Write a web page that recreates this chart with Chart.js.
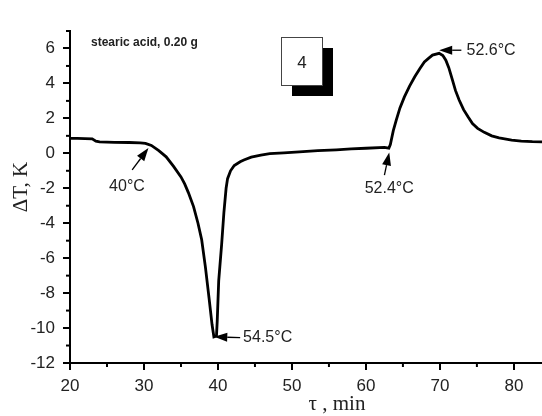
<!DOCTYPE html>
<html>
<head>
<meta charset="utf-8">
<script src="https://cdn.jsdelivr.net/npm/chart.js@4/dist/chart.umd.min.js"></script>
<style>
  body { margin: 0; background: white; }
  #caixa { width: 542px; height: 416px; }
</style>
</head>
<body>
<div id="caixa"><canvas id="grafico1"></canvas></div>
<script>
// tempo (min) e diferenca de temperatura (K)
var tau = [20, 21, 22, 23, 23.5, 24, 26, 28, 29.5, 30.2, 31, 32, 33, 34, 35, 35.5, 36, 36.7, 37.3, 37.8,
    38.3, 38.8, 39.2, 39.45, 39.8, 39.9, 40.1, 40.5, 40.8, 41.1, 41.3, 41.7, 42.2, 43, 43.5, 44.5, 45.8,
    47, 48.9, 51, 53.5, 56, 58, 60, 62.5, 63.1, 63.3, 63.7, 64.1, 64.6, 65.2, 65.9, 66.6, 67.3, 67.9,
    68.5, 69, 69.9, 70.4, 70.8, 71.2, 71.7, 72.1, 72.6, 73.2, 73.8, 74.4, 75.1, 76, 77, 78, 79.7, 81,
    82.5, 83.8];
var deltaT = [0.86, 0.85, 0.84, 0.83, 0.7, 0.65, 0.63, 0.62, 0.6, 0.57, 0.45, 0.15, -0.2, -0.75, -1.35,
    -1.75, -2.25, -3.05, -4.0, -4.95, -6.5, -8.3, -9.8, -10.5, -10.45, -9.6, -7.3, -5.2, -3.4, -2.0, -1.45,
    -1.0, -0.7, -0.48, -0.38, -0.22, -0.1, -0.02, 0.03, 0.08, 0.15, 0.2, 0.25, 0.29, 0.34, 0.3, 0.5, 1.3,
    1.9, 2.6, 3.23, 3.85, 4.38, 4.85, 5.23, 5.45, 5.62, 5.72, 5.6, 5.33, 4.9, 4.19, 3.6, 3.05, 2.5, 2.09,
    1.7, 1.43, 1.2, 1.0, 0.88, 0.76, 0.7, 0.67, 0.66];

var xTicks = [20, 30, 40, 50, 60, 70, 80];
var xMinor = [25, 35, 45, 55, 65, 75];
var yTicks = [-12, -10, -8, -6, -4, -2, 0, 2, 4, 6];
var yMinor = [-11, -9, -7, -5, -3, -1, 1, 3, 5, 7];

// setas: [texto, ponta x, ponta y, cauda x, cauda y, texto x, texto y, alinhamento]
var setas = [
    ['40°C', 30.6, 0.3, 28.4, -0.95, 27.7, -1.9, 'center'],
    ['54.5°C', 39.5, -10.5, 43.0, -10.55, 43.4, -10.55, 'left'],
    ['52.4°C', 63.15, 0.05, 62.5, -1.25, 63.15, -2.0, 'center'],
    ['52.6°C', 69.9, 5.9, 72.9, 5.9, 73.6, 5.9, 'left']
];

var pontos = tau.map(function (t, i) { return { x: t, y: deltaT[i] }; });

function seta(ctx, x1, y1, x2, y2) {
    // linha da cauda ate a ponta, com cabeca preenchida
    var ang = Math.atan2(y1 - y2, x1 - x2);
    var comp = 13, larg = 4.5;
    var bx = x1 - comp * Math.cos(ang), by = y1 - comp * Math.sin(ang);
    ctx.beginPath();
    ctx.moveTo(x2, y2);
    ctx.lineTo(bx, by);
    ctx.lineWidth = 1.3;
    ctx.strokeStyle = 'black';
    ctx.stroke();
    ctx.beginPath();
    ctx.moveTo(x1, y1);
    ctx.lineTo(bx + larg * Math.sin(ang), by - larg * Math.cos(ang));
    ctx.lineTo(bx - larg * Math.sin(ang), by + larg * Math.cos(ang));
    ctx.closePath();
    ctx.fillStyle = 'black';
    ctx.fill();
}

var extras = {
    id: 'extras',
    afterDraw: function (chart) {
        var ctx = chart.ctx;
        var sx = chart.scales.x, sy = chart.scales.y;
        var area = chart.chartArea;
        ctx.save();

        // tracos menores dos eixos
        ctx.strokeStyle = 'black';
        ctx.lineWidth = 2;
        xMinor.forEach(function (v) {
            var px = sx.getPixelForValue(v);
            ctx.beginPath();
            ctx.moveTo(px, area.bottom);
            ctx.lineTo(px, area.bottom + 4);
            ctx.stroke();
        });
        yMinor.forEach(function (v) {
            var py = sy.getPixelForValue(v);
            ctx.beginPath();
            ctx.moveTo(area.left, py);
            ctx.lineTo(area.left - 4, py);
            ctx.stroke();
        });

        // setas e temperaturas
        ctx.font = '16px "Liberation Sans", Arial, sans-serif';
        ctx.textBaseline = 'middle';
        setas.forEach(function (s) {
            seta(ctx, sx.getPixelForValue(s[1]), sy.getPixelForValue(s[2]),
                sx.getPixelForValue(s[3]), sy.getPixelForValue(s[4]));
            ctx.fillStyle = '#222';
            ctx.textAlign = s[7];
            ctx.fillText(s[0], sx.getPixelForValue(s[5]), sy.getPixelForValue(s[6]));
        });

        // amostra
        ctx.font = 'bold 12px "Liberation Sans", Arial, sans-serif';
        ctx.textAlign = 'left';
        ctx.fillStyle = '#222';
        ctx.fillText('stearic acid, 0.20 g', 91, 43);

        // caixa com o numero 4 e sombra
        ctx.fillStyle = 'black';
        ctx.fillRect(292, 48, 41, 48);
        ctx.fillStyle = 'white';
        ctx.fillRect(281.5, 37.5, 41, 48);
        ctx.strokeStyle = '#444';
        ctx.lineWidth = 1;
        ctx.strokeRect(281.5, 37.5, 41, 48);
        ctx.fillStyle = '#222';
        ctx.font = '17px "Liberation Sans", Arial, sans-serif';
        ctx.textAlign = 'center';
        ctx.fillText('4', 302, 63);

        // titulos dos eixos
        ctx.font = '21px "Liberation Serif", "Times New Roman", serif';
        ctx.fillStyle = '#222';
        ctx.fillText('τ , min', 337, 404);
        ctx.translate(21, 187);
        ctx.rotate(-Math.PI / 2);
        ctx.fillText('ΔT, K', 0, 0);
        ctx.restore();
    }
};

function criarGrafico(idDaDiv) {
    var ctx = document.getElementById(idDaDiv).getContext('2d');
    return new Chart(ctx, {
        type: 'line',
        data: {
            datasets: [{
                data: pontos,
                borderColor: 'black',
                borderWidth: 2.8,
                pointRadius: 0,
                tension: 0,
                fill: false
            }]
        },
        options: {
            responsive: true,
            maintainAspectRatio: false,
            animation: false,
            layout: { padding: { top: 31, right: 0, left: 0, bottom: 0 } },
            plugins: { legend: { display: false }, tooltip: { enabled: false } },
            scales: {
                x: {
                    type: 'linear',
                    min: 20,
                    max: 83.8,
                    afterBuildTicks: function (s) { s.ticks = xTicks.map(function (v) { return { value: v }; }); },
                    afterFit: function (s) { s.height = 53; },
                    grid: { drawOnChartArea: false, color: 'black', lineWidth: 2, tickLength: 7 },
                    border: { color: 'black', width: 2 },
                    ticks: { color: '#222', padding: 6, maxRotation: 0, font: { family: '"Liberation Sans", Arial, sans-serif', size: 17 } }
                },
                y: {
                    type: 'linear',
                    min: -12,
                    max: 7,
                    afterBuildTicks: function (s) { s.ticks = yTicks.map(function (v) { return { value: v }; }); },
                    afterFit: function (s) { s.width = 70; },
                    grid: { drawOnChartArea: false, color: 'black', lineWidth: 2, tickLength: 7 },
                    border: { color: 'black', width: 2 },
                    ticks: { color: '#222', padding: 8, font: { family: '"Liberation Sans", Arial, sans-serif', size: 17 } }
                }
            }
        },
        plugins: [extras]
    });
}

criarGrafico('grafico1');
</script>
</body>
</html>
